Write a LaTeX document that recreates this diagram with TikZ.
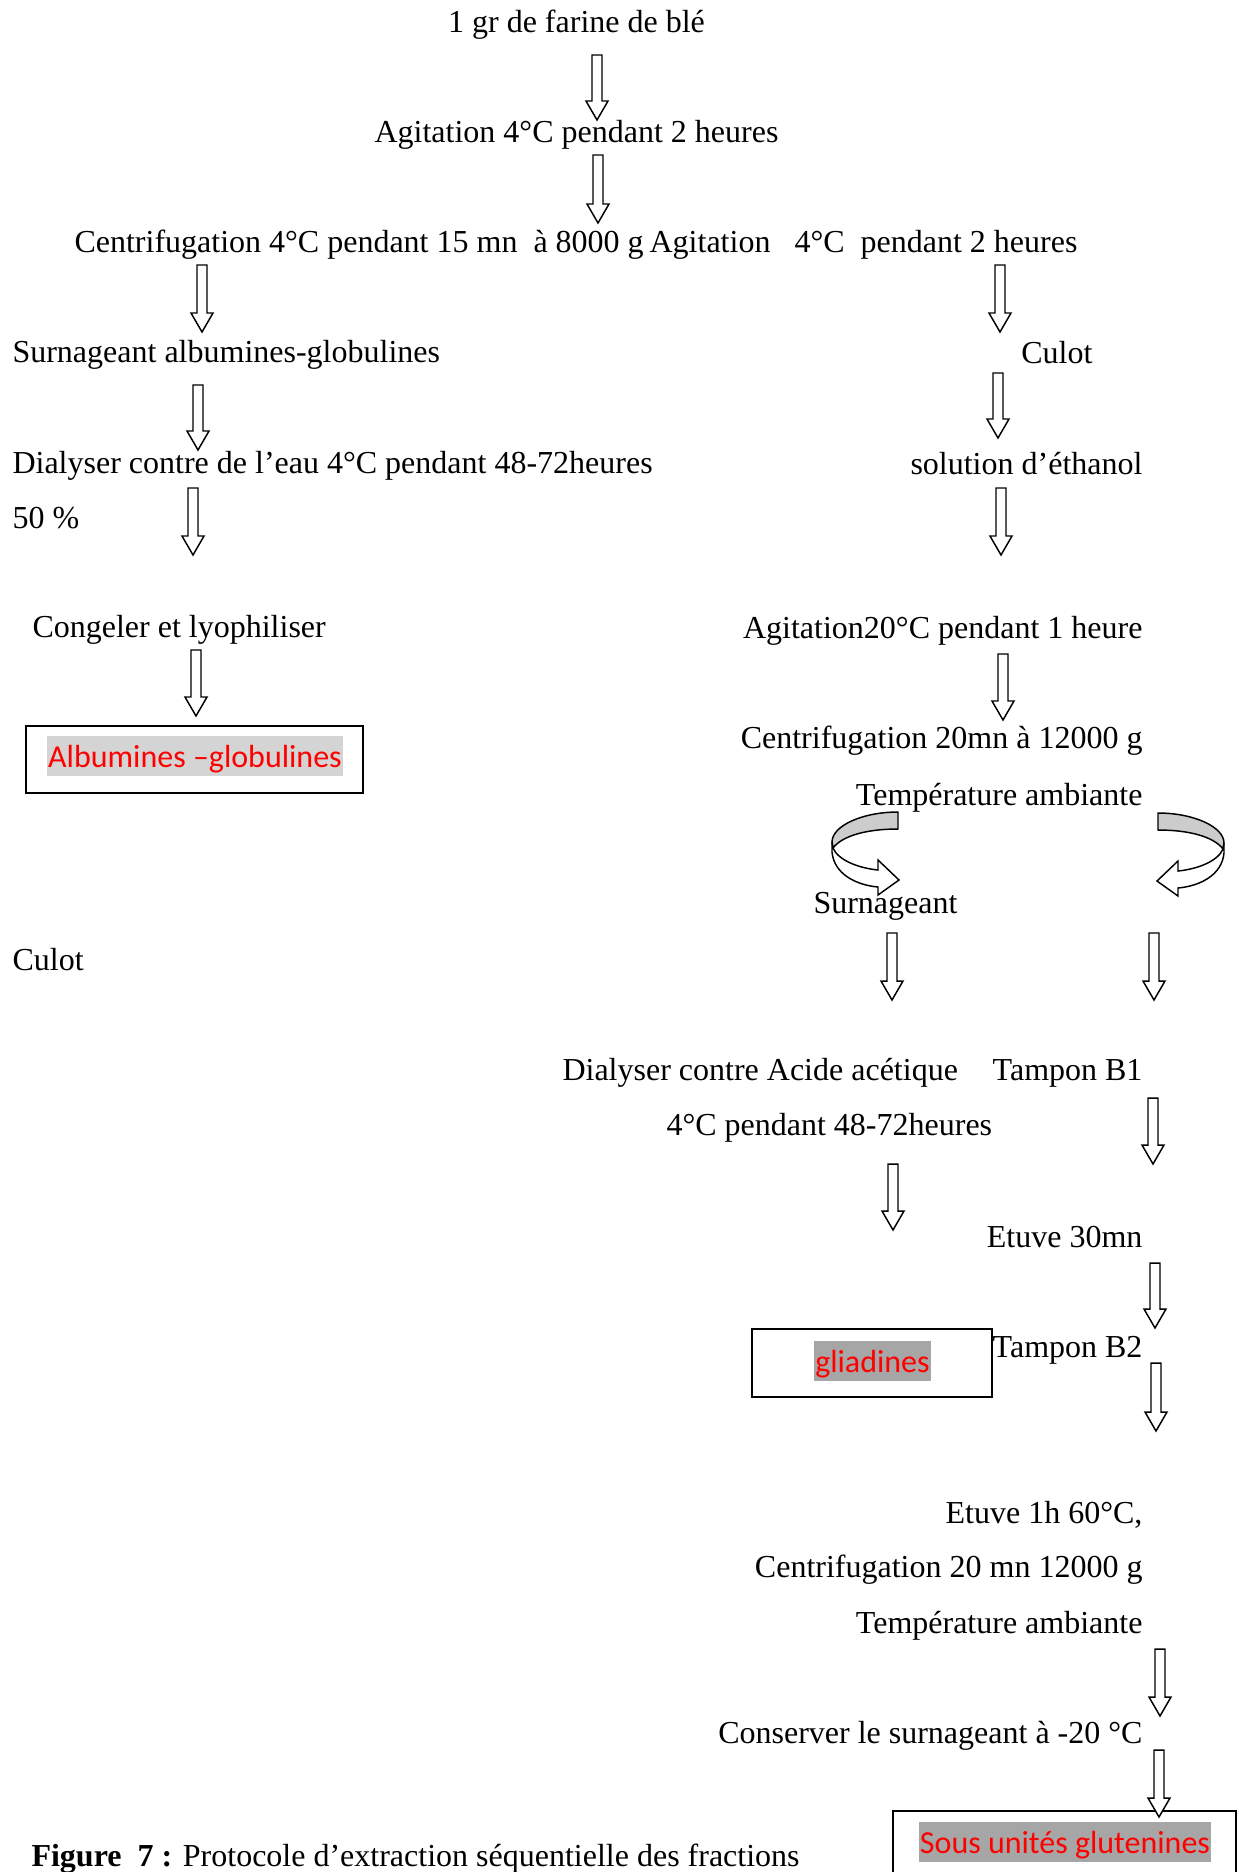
\documentclass[tikz,border=0pt]{standalone}
\usepackage{fontspec}
\setmainfont{Liberation Serif}
\newfontfamily\calibri{Carlito}
\usetikzlibrary{calc}

\tikzset{
    lbl/.style={font=\fontsize{12}{14}\selectfont, inner sep=0pt},
    hollow/.style={draw=black, fill=white, line width=0.55pt, line join=miter},
    resbox/.style={draw=black, line width=0.75pt, inner sep=0pt},
    hl/.style={font=\calibri\fontsize{12}{14}\selectfont, text=red, fill=#1, anchor=base,
        inner xsep=0.4pt, inner ysep=0pt, text height=11.6pt, text depth=3.4pt},
}

% hollow block arrow from top coordinate #1 down to tip coordinate #2
\newcommand\hollowarrow[2]{%
    \draw[hollow] ($(#1)+(-5,0)$) -- ($(#2)+(-5,-19)$) -- ($(#2)+(-11,-19)$) -- (#2)
        -- ($(#2)+(11,-19)$) -- ($(#2)+(5,-19)$) -- ($(#1)+(5,0)$) -- cycle;}

% curved ribbon arrow, origin at the top of its tail
\newcommand\turnarrow{%
    \draw[fill=black!20, line width=0.55pt] (0,0) .. controls (-36,0) and (-66,14) .. (-66,30)
        -- (-65,36) .. controls (-56,24) and (-32,17) .. (0,17) -- cycle;
    \draw[fill=white, line width=0.55pt] (-66,30) -- (-66,40) .. controls (-64,62) and (-42,73) .. (-20,75)
        -- (-20,83) -- (1,68) -- (-20,48) -- (-20,58)
        .. controls (-40,56) and (-60,48) .. (-65,36) -- cycle;}

\begin{document}
\begin{tikzpicture}[x=0.375pt, y=-0.375pt]
    \useasboundingbox (0,0) rectangle (1239,1872);

    % Steps
    \node[lbl, anchor=base] (farine) at (576.5,32) {1 gr de farine de blé};
    \node[lbl, anchor=base] (agit1) at (576.5,142) {Agitation 4°C pendant 2 heures};
    \node[lbl, anchor=base west] (centri1) at (74,252) {Centrifugation 4°C pendant 15 mn\ \ à 8000 g};
    \node[lbl, anchor=base east] (agit2) at (1078,252) {Agitation\ \ \ 4°C\ \ pendant 2 heures};
    \node[lbl, anchor=base west] (surnag1) at (12,362) {Surnageant albumines-globulines};
    \node[lbl, anchor=base east] (culot1) at (1093,363) {Culot};
    \node[lbl, anchor=base west] (dialyse1) at (12,473) {Dialyser contre de l’eau 4°C pendant 48-72heures};
    \node[lbl, anchor=base east] (ethanol) at (1143,474) {solution d’éthanol};
    \node[lbl, anchor=base west] (pct) at (12,528) {50 \%};
    \node[lbl, anchor=base west] (congel) at (32,637) {Congeler et lyophiliser};
    \node[lbl, anchor=base east] (agit3) at (1143,638) {Agitation20°C pendant 1 heure};
    \node[lbl, anchor=base east] (centri2) at (1143,748) {Centrifugation 20mn à 12000 g};
    \node[lbl, anchor=base east] (temp1) at (1143,805) {Température ambiante};
    \node[lbl, anchor=base west] (surnag2) at (813,913) {Surnageant};
    \node[lbl, anchor=base west] (culot2) at (12,970) {Culot};
    \node[lbl, anchor=base west] (dialyse2) at (562,1080) {Dialyser contre Acide acétique};
    \node[lbl, anchor=base east] (tampon1) at (1143,1080) {Tampon B1};
    \node[lbl, anchor=base west] (duree) at (666,1135) {4°C pendant 48-72heures};
    \node[lbl, anchor=base east] (etuve1) at (1143,1247) {Etuve 30mn};
    \node[lbl, anchor=base east] (tampon2) at (1143,1357) {Tampon B2};
    \node[lbl, anchor=base east] (etuve2) at (1143,1523) {Etuve 1h 60°C,};
    \node[lbl, anchor=base east] (centri3) at (1143,1577) {Centrifugation 20 mn 12000 g};
    \node[lbl, anchor=base east] (temp2) at (1143,1633) {Température ambiante};
    \node[lbl, anchor=base east] (conserve) at (1143,1743) {Conserver le surnageant à -20 °C};

    % Fractions
    \node[resbox, minimum width=337*0.375pt, minimum height=67*0.375pt] (albbox) at (194.5,759.5) {};
    \node[hl=black!17] (alb) at (195,767) {Albumines –globulines};
    \node[resbox, minimum width=240*0.375pt, minimum height=68*0.375pt] (gliabox) at (872,1363) {};
    \node[hl=black!35] (glia) at (872.5,1372) {gliadines};
    \node[resbox, minimum width=343*0.375pt, minimum height=67*0.375pt] (glutbox) at (1064.5,1844.5) {};
    \node[hl=black!35] (glut) at (1065,1853) {Sous unités glutenines};

    % Arrows
    \foreach \n/\x/\ya/\yb in {a1/597/55/120, a2/598/155/223, a3/202/265/332, a4/1000/265/332,
        a5/198/385/450, a6/998/373/438, a7/193/488/555, a8/1001/488/555,
        a9/196/650/716, a10/1003/654/720, a11/892/933/1000, a12/1154/933/1000,
        a13/1153/1098/1164, a14/893/1164/1230, a15/1155/1263/1328, a16/1156/1363/1431,
        a17/1160/1649/1716, a18/1159/1750/1817}{
        \coordinate (\n-top) at (\x,\ya);
        \coordinate (\n-tip) at (\x,\yb);
        \hollowarrow{\n-top}{\n-tip}
    }
    \begin{scope}[shift={(898,812)}]
        \turnarrow
    \end{scope}
    \begin{scope}[shift={(1158,813)}, xscale=-1]
        \turnarrow
    \end{scope}

    \node[lbl, anchor=base west] (caption) at (31,1866)
        {\textbf{Figure\ \ 7 :} Protocole d’extraction séquentielle des fractions};
\end{tikzpicture}
\end{document}
